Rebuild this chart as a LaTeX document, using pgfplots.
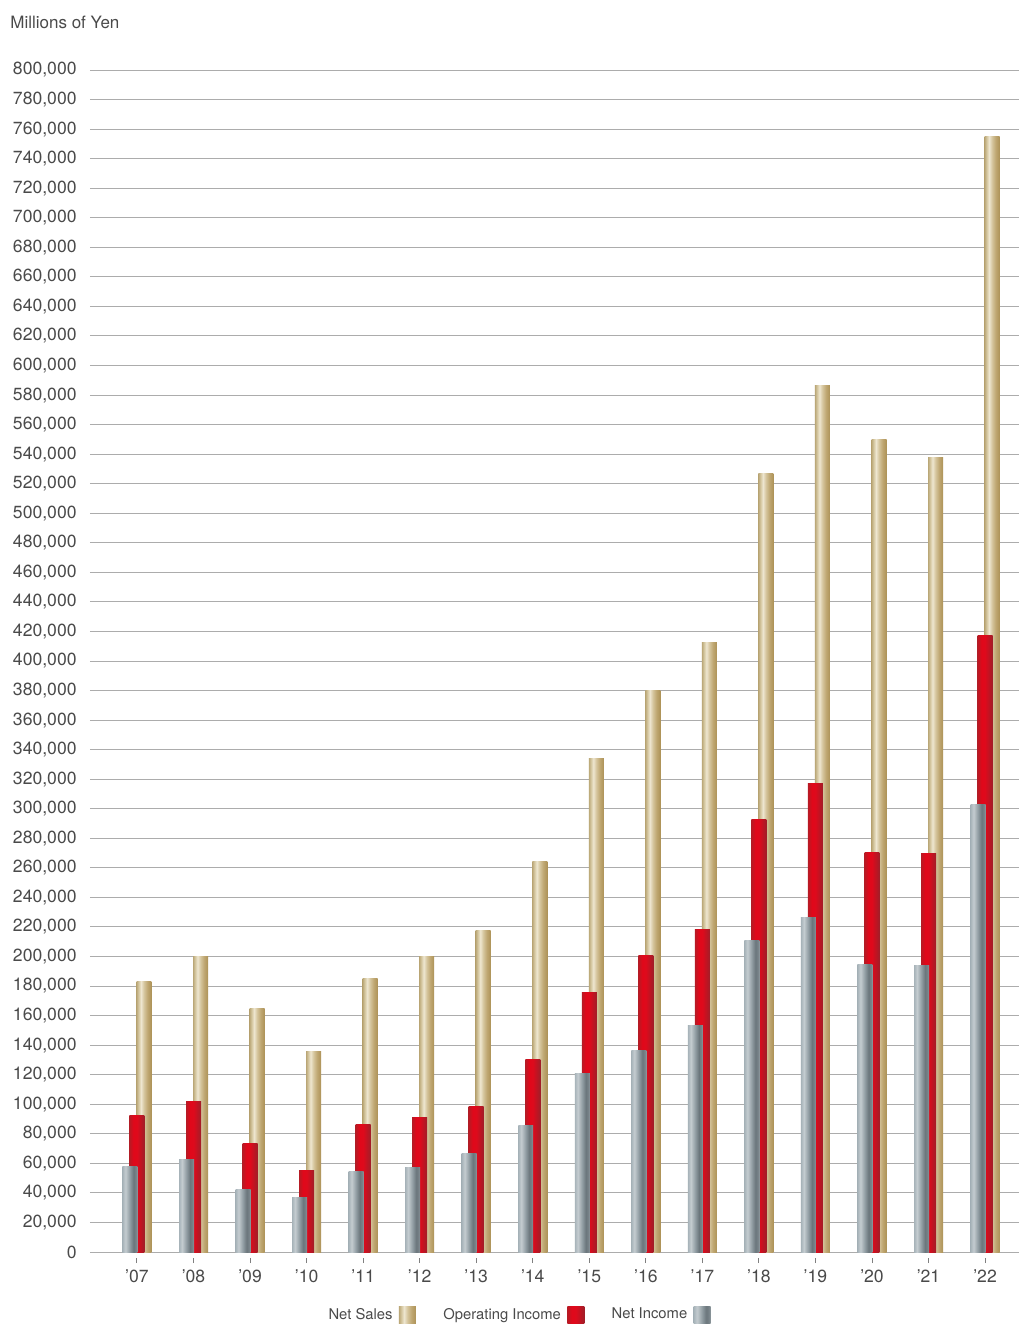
\documentclass[border=0pt]{standalone}
\usepackage{pgfplots}
\usepackage{pgfplotstable}
\pgfplotsset{compat=1.18}
\usepackage{fontspec}
\setmainfont{TeX Gyre Heros}

\definecolor{txt}{HTML}{4A4A4A}
\definecolor{gridc}{HTML}{ACACAC}

% per-bar horizontal shadings (stops between 25bp and 75bp cover the bar)
\pgfdeclarehorizontalshading{goldsh}{100bp}{
  color(0bp)=(rgb,255:red,187;green,168;blue,120);
  color(25bp)=(rgb,255:red,187;green,168;blue,120);
  color(33bp)=(rgb,255:red,216;green,203;blue,166);
  color(40bp)=(rgb,255:red,238;green,230;blue,208);
  color(50bp)=(rgb,255:red,213;green,197;blue,157);
  color(62bp)=(rgb,255:red,191;green,167;blue,114);
  color(75bp)=(rgb,255:red,173;green,146;blue,87);
  color(100bp)=(rgb,255:red,173;green,146;blue,87)}
\pgfdeclarehorizontalshading{redsh}{100bp}{
  color(0bp)=(rgb,255:red,183;green,26;blue,36);
  color(25bp)=(rgb,255:red,183;green,26;blue,36);
  color(38bp)=(rgb,255:red,224;green,8;blue,26);
  color(50bp)=(rgb,255:red,222;green,10;blue,28);
  color(75bp)=(rgb,255:red,160;green,30;blue,40);
  color(100bp)=(rgb,255:red,160;green,30;blue,40)}
\pgfdeclarehorizontalshading{graysh}{100bp}{
  color(0bp)=(rgb,255:red,167;green,179;blue,185);
  color(25bp)=(rgb,255:red,167;green,179;blue,185);
  color(35bp)=(rgb,255:red,196;green,204;blue,208);
  color(50bp)=(rgb,255:red,144;green,156;blue,162);
  color(62bp)=(rgb,255:red,107;green,118;blue,124);
  color(70bp)=(rgb,255:red,120;green,131;blue,137);
  color(75bp)=(rgb,255:red,142;green,153;blue,158);
  color(100bp)=(rgb,255:red,142;green,153;blue,158)}

% year index, net sales, operating income, net income (millions of yen)
\pgfplotstableread{
x  ns      oi      ni
0  183000  92700   58200
1  200300  102200  62900
2  165100  73100   42000
3  136000  55500   37200
4  184800  86600   54800
5  199700  90700   57500
6  217300  98800   67000
7  264600  130600  85300
8  333700  175300  120500
9  379700  201000  136700
10 412200  218600  153000
11 526600  292400  210500
12 586800  317400  226100
13 549600  270700  194900
14 538000  270000  193600
15 755300  417600  303200
}\data

\begin{document}
\begin{tikzpicture}
\useasboundingbox (0,0) rectangle (509.5pt,662pt);
\node[anchor=west, text=txt, font=\fontsize{8.5}{10}\selectfont, inner sep=0pt] at (5pt,651pt) {Millions of Yen};
\begin{axis}[
    at={(45pt,36pt)}, anchor=south west,
    scale only axis,
    width=464.5pt, height=591pt,
    xmin=-0.831, xmax=15.6,
    ymin=0, ymax=800000,
    ytick={0,20000,...,800000},
    xtick={0,...,15},
    xticklabels={’07,’08,’09,’10,’11,’12,’13,’14,’15,’16,’17,’18,’19,’20,’21,’22},
    scaled y ticks=false,
    /pgf/number format/fixed,
    /pgf/number format/precision=0,
    /pgf/number format/assume math mode=true,
    /pgf/number format/1000 sep={,},
    axis line style={draw=none},
    ymajorgrids,
    major grid style={draw=gridc, line width=0.5pt},
    ytick style={draw=none},
    xtick pos=bottom,
    tick align=outside,
    major tick length=2.5pt,
    xtick style={draw=gray, line width=0.5pt, yshift=-3pt},
    tick label style={font=\fontsize{8.8}{10}\selectfont, text=txt},
    yticklabel style={inner sep=0pt, xshift=-4pt},
    xticklabel style={yshift=-3pt},
    legend plot pos=right,
    legend columns=-1,
    legend style={at={(0.459,0)}, anchor=center, yshift=-31.5pt, draw=none,
        font=\fontsize{7.4}{9}\selectfont, text=txt,
        nodes={inner xsep=3.2pt},
        /tikz/every even column/.append style={column sep=10.5pt}},
    legend image code/.code={\path[#1, draw=none] (0pt,-4.25pt) rectangle (8.5pt,4.25pt);},
]
\addlegendimage{draw=none, shading=goldsh}
\addlegendentry{Net Sales}
\addlegendimage{draw=none, shading=redsh}
\addlegendentry{Operating Income}
\addlegendimage{draw=none, shading=graysh}
\addlegendentry{Net Income}
% one plot per bar so that each bar gets its own shading
\pgfplotsinvokeforeach{0,...,15}{
  \addplot[ybar, forget plot, draw=none, bar width=0.265, bar shift=0.124,
      shading=goldsh, x filter/.expression={x==#1 ? x : nan}]
      table[x=x, y=ns] {\data};
}
\pgfplotsinvokeforeach{0,...,15}{
  \addplot[ybar, forget plot, draw=none, bar width=0.265, bar shift=0,
      shading=redsh, x filter/.expression={x==#1 ? x : nan}]
      table[x=x, y=oi] {\data};
}
\pgfplotsinvokeforeach{0,...,15}{
  \addplot[ybar, forget plot, draw=none, bar width=0.265, bar shift=-0.124,
      shading=graysh, x filter/.expression={x==#1 ? x : nan}]
      table[x=x, y=ni] {\data};
}
\end{axis}
\end{tikzpicture}
\end{document}
